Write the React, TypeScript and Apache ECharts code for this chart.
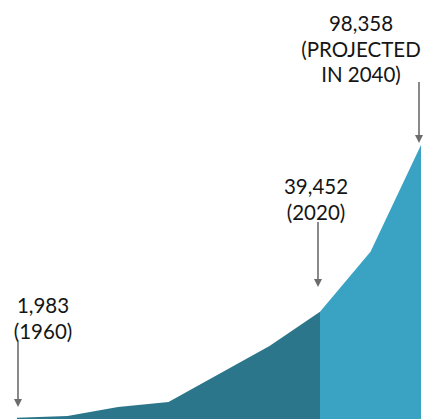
import React, { useEffect, useRef } from "react";
import * as echarts from "echarts";

const years = [1960, 1970, 1980, 1990, 2000, 2010, 2020, 2030, 2040];
const historical = [1983, 2560, 5740, 7510, 17400, 27300, 39452, null, null];
const projected = [null, null, null, null, null, null, 39452, 60640, 98358];
const annotations = [
  { year: 1960, value: 1983, lines: ["1,983", "(1960)"] },
  { year: 2020, value: 39452, lines: ["39,452", "(2020)"] },
  { year: 2040, value: 98358, lines: ["98,358", "(PROJECTED", "IN 2040)"] },
];

const DARK = "#2c768b";
const LIGHT = "#3aa3c3";
const ARROW = "#6b6c6e";

export default function App() {
  const ref = useRef<HTMLDivElement>(null);
  useEffect(() => {
    if (!ref.current) return;
    const chart = echarts.init(ref.current, null, { renderer: "svg" });
    const toPairs = (arr: (number | null)[]) => years.map((y, i) => [y, arr[i]]);
    chart.setOption({
      animation: false,
      grid: { left: 17, right: 4, top: 145, bottom: 0 },
      xAxis: { type: "value", min: 1960, max: 2040, show: false },
      yAxis: { type: "value", min: 1500, max: 98358, show: false },
      series: [
        {
          type: "line",
          data: toPairs(historical),
          symbol: "none",
          lineStyle: { width: 0 },
          areaStyle: { color: DARK, opacity: 1, origin: "start" },
          connectNulls: false,
        },
        {
          type: "line",
          data: toPairs(projected),
          symbol: "none",
          lineStyle: { width: 0 },
          areaStyle: { color: LIGHT, opacity: 1, origin: "start" },
          connectNulls: false,
        },
      ],
    });

    const layout: Record<number, { dx: number; ty: number; a0: number; a1: number; ax: number }> = {
      1960: { dx: 26, ty: 305, a0: 342, a1: 407, ax: 1 },
      2020: { dx: -4, ty: 186, a0: 222, a1: 287, ax: -2 },
      2040: { dx: -60, ty: 23, a0: 82, a1: 143, ax: -2 },
    };
    const graphics: any[] = [];
    annotations.forEach((a) => {
      const p = chart.convertToPixel({ gridIndex: 0 }, [a.year, a.value]) as number[];
      const L = layout[a.year];
      const cx = p[0] + L.dx;
      const ax = p[0] + L.ax;
      a.lines.forEach((t, i) => {
        graphics.push({
          type: "text",
          x: cx,
          y: L.ty + i * 25.5,
          style: {
            text: t,
            fill: "#151515",
            font: "20.5px Lato",
            align: "center",
            verticalAlign: "middle",
          },
        });
      });
      graphics.push({
        type: "line",
        shape: { x1: ax, y1: L.a0, x2: ax, y2: L.a1 - 6 },
        style: { stroke: ARROW, lineWidth: 1.6 },
      });
      graphics.push({
        type: "polygon",
        shape: { points: [[ax - 4, L.a1 - 8], [ax + 4, L.a1 - 8], [ax, L.a1]] },
        style: { fill: ARROW },
      });
    });
    chart.setOption({ graphic: graphics });
    return () => chart.dispose();
  }, []);
  return <div ref={ref} style={{ width: 425, height: 419, position: "absolute", left: 0, top: 0 }} />;
}
